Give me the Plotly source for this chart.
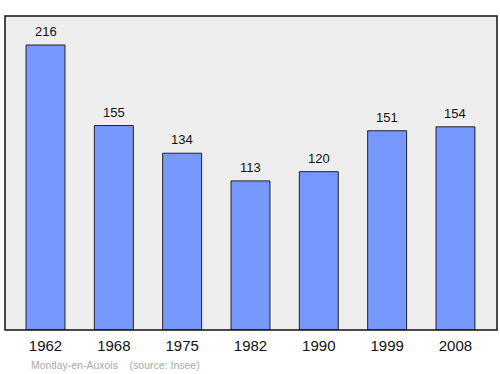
import plotly.graph_objects as go

years = ["1962", "1968", "1975", "1982", "1990", "1999", "2008"]
population = [216, 155, 134, 113, 120, 151, 154]

fig = go.Figure()
fig.add_trace(go.Bar(
    x=list(range(len(years))), y=population, width=0.57,
    marker=dict(color="#7799ff", line=dict(color="#222222", width=1)),
    hoverinfo="skip",
))
for i, v in enumerate(population):
    fig.add_annotation(x=i, y=v, text=str(v), showarrow=False, yanchor="bottom",
                       yshift=4, font=dict(family="Liberation Sans, Arial", size=13, color="#111"))

fig.add_shape(type="rect", xref="paper", yref="paper", x0=0, x1=1, y0=0, y1=1,
              line=dict(color="#111", width=1.5), layer="above")
fig.add_annotation(xref="paper", yref="paper", x=24/492, y=-35/314, xanchor="left", yanchor="middle",
                   text="Montlay-en-Auxois &nbsp;&nbsp; (source: Insee)", showarrow=False,
                   font=dict(family="Liberation Sans, Arial", size=10.5, color="#aaaaaa"))

fig.update_layout(
    width=500, height=374,
    margin=dict(l=5, r=3, t=16, b=44),
    paper_bgcolor="white", plot_bgcolor="#eeeeee",
    showlegend=False,
    xaxis=dict(range=[-0.593, 6.608], tickmode="array", tickvals=list(range(len(years))),
               ticktext=years, showgrid=False, zeroline=False, ticks="outside", ticklen=2,
               tickcolor="rgba(0,0,0,0)",
               tickfont=dict(family="Liberation Sans, Arial", size=15, color="#111")),
    yaxis=dict(range=[0, 238], showgrid=False, zeroline=False, showticklabels=False, ticks=""),
)
fig.write_html("out.html")
